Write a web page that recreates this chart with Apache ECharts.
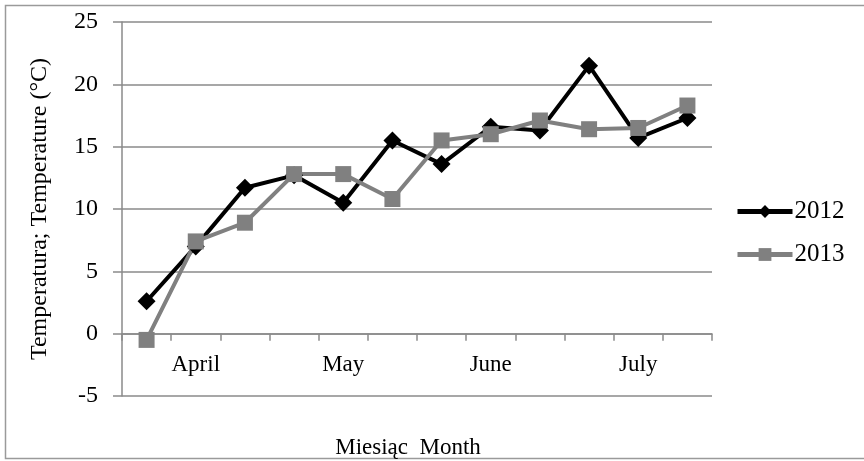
<!DOCTYPE html>
<html>
<head>
<meta charset="utf-8">
<script src="https://cdn.jsdelivr.net/npm/echarts@6/dist/echarts.min.js"></script>
<style>
  html, body { margin: 0; padding: 0; background: #fff; }
  #chart { width: 864px; height: 461px; }
</style>
</head>
<body>
<div id="chart"></div>
<script>
var chart = echarts.init(document.getElementById('chart'));

// three readings per month, April - July
let periods = ['Apr-1', 'Apr-2', 'Apr-3', 'May-1', 'May-2', 'May-3',
               'Jun-1', 'Jun-2', 'Jun-3', 'Jul-1', 'Jul-2', 'Jul-3'];
let monthLabels = ['', 'April', '', '', 'May', '', '', 'June', '', '', 'July', ''];
let temp2012 = [2.6, 7.0, 11.7, 12.7, 10.5, 15.5, 13.6, 16.6, 16.3, 21.5, 15.7, 17.3];
let temp2013 = [-0.5, 7.4, 8.9, 12.8, 12.8, 10.8, 15.5, 16.0, 17.1, 16.4, 16.5, 18.3];

let font = 'Liberation Serif';
let gridGray = '#8a8a8a';

var option = {
    backgroundColor: '#fff',
    animation: false,
    graphic: [
        {
            type: 'rect',
            shape: { x: 5.5, y: 5.5, width: 880, height: 453 },
            style: { fill: 'none', stroke: '#9a9a9a', lineWidth: 1.5 },
            silent: true
        }
    ],
    grid: {
        left: 122,
        top: 22,
        right: 152,
        bottom: 65,
        containLabel: false,
        outerBoundsMode: 'none'
    },
    legend: {
        orient: 'vertical',
        left: 735,
        top: 199,
        padding: 0,
        itemWidth: 55,
        itemHeight: 16,
        itemGap: 18,
        lineStyle: { width: 5 },
        textStyle: { fontFamily: font, fontSize: 25, color: '#000', padding: [0, 0, 0, -3] },
        data: ['2012', '2013']
    },
    xAxis: {
        type: 'category',
        data: periods,
        boundaryGap: true,
        name: 'Miesiąc  Month',
        nameLocation: 'middle',
        nameGap: 40,
        nameTextStyle: { fontFamily: font, fontSize: 23, color: '#000', padding: [0, 18, 0, 0] },
        axisLine: { onZero: true, lineStyle: { color: gridGray, width: 1.5 } },
        axisTick: { show: true, length: 7, interval: 0, lineStyle: { color: gridGray, width: 1.5 } },
        axisLabel: {
            interval: 0,
            margin: -43,
            fontFamily: font,
            fontSize: 23,
            color: '#000',
            formatter: function (v, i) { return monthLabels[i]; }
        }
    },
    yAxis: {
        type: 'value',
        min: -5,
        max: 25,
        interval: 5,
        name: 'Temperatura; Temperature (°C)',
        nameLocation: 'middle',
        nameGap: 70,
        nameTextStyle: { fontFamily: font, fontSize: 24, color: '#000' },
        axisLine: { show: true, lineStyle: { color: gridGray, width: 1.5 } },
        axisTick: { show: true, length: 9, lineStyle: { color: gridGray, width: 1.5 } },
        axisLabel: { margin: 24, fontFamily: font, fontSize: 24, color: '#000' },
        splitLine: { show: true, lineStyle: { color: gridGray, width: 1.5 } }
    },
    series: [
        {
            name: '2012',
            type: 'line',
            data: temp2012,
            symbol: 'diamond',
            symbolSize: 18,
            color: '#000',
            lineStyle: { color: '#000', width: 4 },
            itemStyle: { color: '#000' }
        },
        {
            name: '2013',
            type: 'line',
            data: temp2013,
            symbol: 'rect',
            symbolSize: 16,
            color: '#808080',
            lineStyle: { color: '#808080', width: 4 },
            itemStyle: { color: '#808080' }
        }
    ]
};
chart.setOption(option);
</script>
</body>
</html>
